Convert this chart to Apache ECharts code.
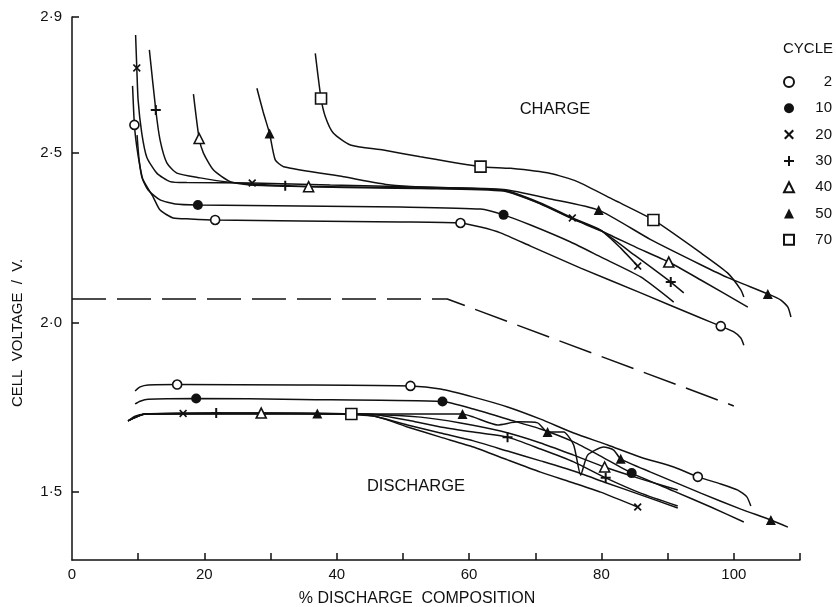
<!DOCTYPE html>
<html><head><meta charset="utf-8">
<script src="https://cdn.jsdelivr.net/npm/echarts@6/dist/echarts.min.js"></script>
<style>html,body{margin:0;padding:0;background:#fff}#c{width:836px;height:607px}</style>
</head><body><div id="c"></div>
<script>
// ---------- data ----------
const cycles = ['2', '10', '20', '30', '40', '50', '70'];
const xTickLabels = [0, 20, 40, 60, 80, 100];
const xTicks = [10, 20, 30, 40, 50, 60, 70, 80, 90, 100, 110];
const yTickLabels = [1.5, 2.0, 2.5, 2.9];

const charge2 = [[9.15,2.697],[9.43,2.582],[9.79,2.517],[10.29,2.458],[10.74,2.420],[12.25,2.370],[13.31,2.331],[15.28,2.308],[17.85,2.305],[21.63,2.302],[34.49,2.299],[49.62,2.296],[58.70,2.293],[61.73,2.281],[64.75,2.264],[69.29,2.225],[76.86,2.160],[85.93,2.087],[95.01,2.013],[98.03,1.989],[100.0,1.972],[101.06,1.954],[101.51,1.933]];
const charge10 = [[9.83,2.552],[10.14,2.479],[10.59,2.426],[11.50,2.390],[13.31,2.361],[15.58,2.349],[19.02,2.346],[34.49,2.343],[49.62,2.340],[61.73,2.334],[65.21,2.317],[69.29,2.287],[75.34,2.237],[79.88,2.193],[85.93,2.134],[90.92,2.060]];
const charge20 = [[9.61,2.847],[9.79,2.750],[9.99,2.655],[10.54,2.558],[11.30,2.487],[12.81,2.440],[14.83,2.415],[17.35,2.412],[27.23,2.411],[39.03,2.405],[52.65,2.399],[65.21,2.390],[70.80,2.352],[75.60,2.308],[79.88,2.272],[82.91,2.219],[85.48,2.166]];
const charge30 = [[11.69,2.803],[12.66,2.626],[13.31,2.537],[14.33,2.470],[15.84,2.440],[19.37,2.426],[23.40,2.414],[32.22,2.403],[42.06,2.399],[52.65,2.396],[65.21,2.389],[70.80,2.350],[75.60,2.306],[79.88,2.271],[85.17,2.196],[90.47,2.119],[92.44,2.087]];
const charge40 = [[18.35,2.673],[19.21,2.542],[19.86,2.499],[21.38,2.449],[23.90,2.415],[26.93,2.405],[35.75,2.400],[46.60,2.396],[52.65,2.395],[65.21,2.387],[70.80,2.349],[75.60,2.305],[79.88,2.270],[85.17,2.222],[90.17,2.178],[95.01,2.125],[102.12,2.045]];
const charge50 = [[27.94,2.690],[28.89,2.620],[29.85,2.557],[30.71,2.479],[31.97,2.459],[41.04,2.429],[48.11,2.405],[52.65,2.399],[65.21,2.392],[72.32,2.364],[79.58,2.331],[87.44,2.244],[95.01,2.170],[99.09,2.132],[105.14,2.084],[107.11,2.066],[108.17,2.045],[108.63,2.016]];
const charge70 = [[36.76,2.793],[37.63,2.660],[38.28,2.606],[39.48,2.558],[42.06,2.523],[47.05,2.508],[52.65,2.488],[61.73,2.459],[66.26,2.454],[72.32,2.439],[76.36,2.415],[81.89,2.361],[87.85,2.302],[95.01,2.205],[99.05,2.146],[101.06,2.096],[101.51,2.075]];

const discharge2 = [[9.53,1.798],[10.29,1.810],[11.50,1.816],[15.89,1.817],[34.49,1.816],[51.14,1.813],[55.67,1.804],[60.67,1.780],[65.81,1.751],[70.80,1.715],[75.80,1.674],[80.94,1.639],[85.93,1.603],[90.92,1.574],[94.56,1.545],[98.03,1.524],[100.60,1.506],[101.97,1.486],[102.57,1.459]];
const discharge10 = [[9.53,1.760],[10.29,1.768],[11.50,1.774],[18.76,1.776],[34.49,1.773],[55.98,1.767],[60.67,1.745],[65.81,1.715],[70.80,1.686],[75.80,1.648],[79.88,1.606],[84.57,1.556],[90.92,1.503],[96.52,1.456],[101.51,1.412]];
const discharge20 = [[8.47,1.710],[9.53,1.724],[11.04,1.730],[16.79,1.732],[34.49,1.732],[45.54,1.724],[50.68,1.692],[55.67,1.662],[60.67,1.633],[65.81,1.595],[70.80,1.559],[75.80,1.527],[79.88,1.500],[85.48,1.456]];
const discharge30 = [[8.47,1.710],[11.04,1.730],[21.79,1.733],[45.54,1.729],[51.14,1.710],[55.67,1.692],[60.67,1.677],[65.81,1.662],[70.80,1.627],[75.80,1.589],[80.64,1.542],[85.93,1.497],[91.53,1.459]];
const discharge40 = [[8.47,1.710],[11.04,1.730],[28.59,1.733],[45.54,1.729],[52.65,1.721],[58.70,1.704],[64.75,1.680],[70.80,1.645],[75.80,1.609],[80.48,1.574],[85.93,1.539],[91.53,1.506]];
const discharge50 = [[8.47,1.710],[11.04,1.730],[37.07,1.732],[45.54,1.730],[52.65,1.730],[59.00,1.730],[60.67,1.721],[64.30,1.698],[67.32,1.707],[70.35,1.704],[71.86,1.677],[74.28,1.677],[75.80,1.639],[76.86,1.550],[77.91,1.609],[80.33,1.633],[81.85,1.624],[82.91,1.598],[87.44,1.559],[95.01,1.497],[101.06,1.450],[105.60,1.418],[108.17,1.397]];
const discharge70 = [[8.47,1.710],[11.04,1.730],[42.21,1.730],[45.54,1.724],[50.68,1.698],[55.67,1.674],[60.67,1.651],[65.81,1.621],[70.80,1.592],[75.80,1.562],[80.79,1.527],[85.93,1.492],[91.53,1.453]];

const equilibrium = [[0,2.069],[56.7,2.069],[100,1.754]];

const markers2 = [[9.43,2.582],[21.63,2.302],[58.70,2.293],[98.03,1.989],[15.89,1.817],[51.14,1.813],[94.56,1.545]];
const markers10 = [[19.02,2.346],[65.21,2.317],[18.76,1.776],[55.98,1.767],[84.57,1.556]];
const markers20 = [[9.79,2.750],[27.23,2.411],[75.60,2.308],[85.48,2.166],[16.79,1.732],[85.48,1.456]];
const markers30 = [[12.66,2.626],[32.22,2.403],[90.47,2.119],[21.79,1.733],[65.81,1.662],[80.64,1.542]];
const markers40 = [[19.21,2.542],[35.75,2.400],[90.17,2.178],[28.59,1.733],[80.48,1.574]];
const markers50 = [[29.85,2.557],[79.58,2.331],[105.14,2.084],[37.07,1.732],[59.00,1.730],[71.86,1.677],[82.91,1.598],[105.60,1.418]];
const markers70 = [[37.63,2.660],[61.73,2.459],[87.85,2.302],[42.21,1.730]];

// ---------- styling ----------
const INK = '#111';
const FONT = '"Liberation Sans", Arial, sans-serif';
const CROSS = 'path://M0,1.5L1.5,0L5,3.5L8.5,0L10,1.5L6.5,5L10,8.5L8.5,10L5,6.5L1.5,10L0,8.5L3.5,5Z';
const PLUS = 'path://M4,0H6V4H10V6H6V10H4V6H0V4H4Z';
const markerStyles = {
  '2':  {symbol: 'circle',   size: 9,  fill: '#fff'},
  '10': {symbol: 'circle',   size: 10, fill: INK},
  '20': {symbol: CROSS,      size: 8,  fill: INK},
  '30': {symbol: PLUS,       size: 10, fill: INK},
  '40': {symbol: 'triangle', size: 10, fill: '#fff'},
  '50': {symbol: 'triangle', size: 10, fill: INK},
  '70': {symbol: 'rect',     size: 11, fill: '#fff'}
};
const chargeSets = [charge2, charge10, charge20, charge30, charge40, charge50, charge70];
const dischargeSets = [discharge2, discharge10, discharge20, discharge30, discharge40, discharge50, discharge70];
const markerSets = [markers2, markers10, markers20, markers30, markers40, markers50, markers70];

const series = [];
cycles.forEach((c, i) => {
  [chargeSets[i], dischargeSets[i]].forEach((d, k) => {
    series.push({
      type: 'line', name: 'curve-' + c + '-' + k, data: d, symbol: 'none',
      smooth: 0.2, silent: true, z: 2,
      lineStyle: {color: INK, width: 1.5}
    });
  });
});
series.push({
  type: 'line', name: 'equilibrium', data: equilibrium, symbol: 'none', silent: true, z: 2,
  lineStyle: {color: INK, width: 1.5, type: [34, 11]}
});
cycles.forEach((c, i) => {
  const s = markerStyles[c];
  series.push({
    type: 'scatter', name: c, data: markerSets[i], symbol: s.symbol, symbolSize: s.size, z: 5,
    itemStyle: {color: s.fill, borderColor: INK, borderWidth: s.fill === '#fff' ? 1.6 : 0, opacity: 1}
  });
});

const chart = echarts.init(document.getElementById('c'), null, {renderer: 'canvas'});
chart.setOption({
  backgroundColor: '#fff',
  animation: false,
  grid: {left: 72, right: 36, top: 17, bottom: 47, containLabel: false, outerBoundsMode: 'none'},
  xAxis: {
    type: 'value', min: 0, max: 110,
    axisLine: {show: true, onZero: false, lineStyle: {color: INK, width: 1.5}},
    axisTick: {show: true, inside: true, length: 7, customValues: xTicks, lineStyle: {color: INK, width: 1.5}},
    axisLabel: {customValues: xTickLabels, color: INK, fontSize: 15, fontFamily: FONT, margin: 7},
    splitLine: {show: false}
  },
  yAxis: {
    type: 'value', min: 1.3, max: 2.9,
    axisLine: {show: true, onZero: false, lineStyle: {color: INK, width: 1.5}},
    axisTick: {show: true, inside: true, length: 7, customValues: yTickLabels, lineStyle: {color: INK, width: 1.5}},
    axisLabel: {customValues: yTickLabels, color: INK, fontSize: 15, fontFamily: FONT, margin: 10,
      formatter: v => Number(v).toFixed(1).replace('.', '\u00B7')},
    splitLine: {show: false}
  },
  legend: {
    data: cycles, orient: 'vertical', left: 778, top: 69,
    itemWidth: 10, itemHeight: 10, itemGap: 10.3, selectedMode: false,
    textStyle: {color: INK, fontSize: 15, fontFamily: FONT, lineHeight: 16,
      rich: {n: {width: 33, align: 'right', fontSize: 15, fontFamily: FONT, color: INK}}},
    formatter: name => '{n|' + name + '}'
  },
  graphic: [
    {type: 'text', x: 808, y: 49, style: {text: 'CYCLE', font: '15px ' + FONT, fill: INK, align: 'center', verticalAlign: 'middle'}},
    {type: 'text', x: 555, y: 109, style: {text: 'CHARGE', font: '16.5px ' + FONT, fill: INK, align: 'center', verticalAlign: 'middle'}},
    {type: 'text', x: 416, y: 486, style: {text: 'DISCHARGE', font: '16.5px ' + FONT, fill: INK, align: 'center', verticalAlign: 'middle'}},
    {type: 'text', x: 417, y: 599, style: {text: '% DISCHARGE  COMPOSITION', font: '16px ' + FONT, fill: INK, align: 'center', verticalAlign: 'middle'}},
    {type: 'text', x: 18, y: 333, rotation: Math.PI / 2, style: {text: 'CELL  VOLTAGE  /  V.', font: '15px ' + FONT, fill: INK, align: 'center', verticalAlign: 'middle'}}
  ],
  series: series
});
</script>
</body></html>
